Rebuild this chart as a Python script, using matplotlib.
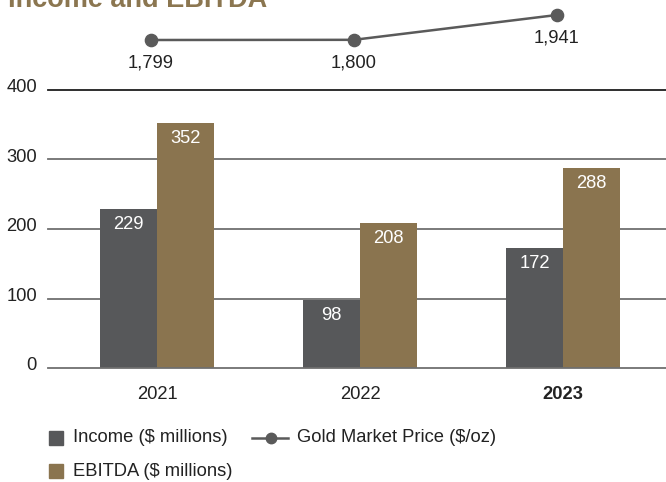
import matplotlib.pyplot as plt
from matplotlib.patches import Rectangle
from matplotlib.lines import Line2D
from matplotlib.transforms import ScaledTranslation

plt.rcParams['font.family'] = ['Liberation Sans', 'DejaVu Sans']

# Data
years = ['2021', '2022', '2023']
income = [229, 98, 172]
ebitda = [352, 208, 288]
gold_price = [1799, 1800, 1941]
gold_labels = ['1,799', '1,800', '1,941']
y_ticks = [0, 100, 200, 300, 400]

INCOME_C = '#57585a'
EBITDA_C = '#8a744f'
TITLE_C = '#8b7650'
TEXT_C = '#222222'
FS = 13.2

W, H = 666, 482
fig = plt.figure(figsize=(W / 100, H / 100), dpi=100)


def fx(x):
    return x / W


def fy(y):
    return 1 - y / H


# Main bar axes: gridlines run from x=48 to the right edge, 0 at y=368, 400 at y=90
ax = fig.add_axes([fx(48), fy(368), (W - 48) / W, (368 - 90) / H])
ax.set_xlim(-0.537, 2.507)
ax.set_ylim(0, 400)

bw = 0.279
xs = list(range(len(years)))
ax.bar([x - bw / 2 for x in xs], income, width=bw, color=INCOME_C, zorder=3)
ax.bar([x + bw / 2 for x in xs], ebitda, width=bw, color=EBITDA_C, zorder=3)

for i, x in enumerate(xs):
    for xx, v in ((x - bw / 2, income[i]), (x + bw / 2, ebitda[i])):
        ax.annotate(str(v), (xx, v), xytext=(0, -11), textcoords='offset points',
                    ha='center', va='center', color='white', fontsize=FS, zorder=4)

for t in y_ticks:
    c = '#1e1e1e' if t == 400 else '#6f6f6f'
    ax.axhline(t, color=c, lw=1.3, zorder=2 if t else 4, clip_on=False)

for s in ax.spines.values():
    s.set_visible(False)

ax.set_yticks(y_ticks)
ax.set_yticklabels([str(t) for t in y_ticks])
ax.tick_params(axis='y', length=0, pad=8, labelsize=FS, labelcolor=TEXT_C)
for lab in ax.get_yticklabels():
    lab.set_transform(lab.get_transform() + ScaledTranslation(0, 3 / 72, fig.dpi_scale_trans))

ax.set_xticks(xs)
ax.set_xticklabels(years)
ax.tick_params(axis='x', length=0, pad=13, labelsize=FS, labelcolor=TEXT_C)
ax.get_xticklabels()[-1].set_fontweight('bold')

# Gold price line above the bars
ax2 = fig.add_axes([fx(48), fy(80), (W - 48) / W, 80 / H])
ax2.set_xlim(-0.507, 2.537)
ax2.set_ylim(1572, 2026)
ax2.axis('off')
ax2.plot(xs, gold_price, color='#5a5a5a', lw=1.8, marker='o', ms=8.8,
         clip_on=False)
for x, v, lab in zip(xs, gold_price, gold_labels):
    ax2.annotate(lab, (x, v), xytext=(0, -16.5), textcoords='offset points',
                 ha='center', va='center', fontsize=FS, color=TEXT_C)

# Title, partly above the top edge
fig.text(fx(8), fy(7), 'Income and EBITDA', fontsize=19.5, fontweight='bold',
         color=TITLE_C, ha='left', va='baseline')

# Legend
def square(x, y, color):
    fig.patches.append(Rectangle((fx(x), fy(y + 7)), 14 / W, 14 / H,
                                 transform=fig.transFigure, color=color))


square(49, 438, INCOME_C)
fig.text(fx(73), fy(438), 'Income ($ millions)', fontsize=FS, color=TEXT_C,
         va='center', ha='left')
square(49, 471, EBITDA_C)
fig.text(fx(73), fy(471), 'EBITDA ($ millions)', fontsize=FS, color=TEXT_C,
         va='center', ha='left')
fig.lines.append(Line2D([fx(252), fx(288)], [fy(438), fy(438)], color='#5a5a5a',
                        lw=1.8, transform=fig.transFigure))
fig.lines.append(Line2D([fx(271)], [fy(438)], color='#5a5a5a', marker='o', ms=7.5,
                        transform=fig.transFigure))
fig.text(fx(297), fy(438), 'Gold Market Price ($/oz)', fontsize=FS, color=TEXT_C,
         va='center', ha='left')

fig.savefig('out.png', dpi=100)
